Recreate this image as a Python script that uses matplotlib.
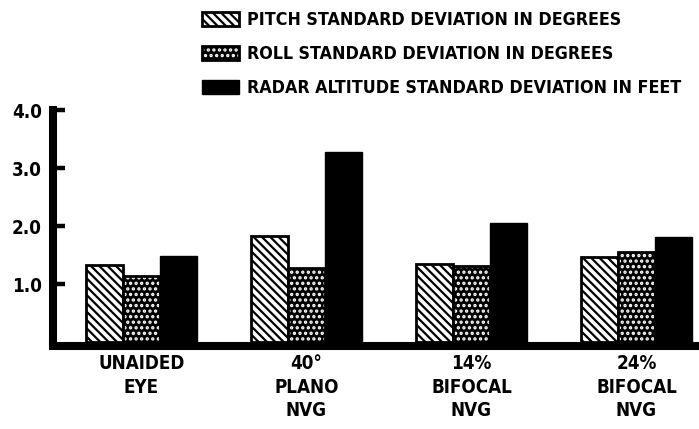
import numpy as np
import matplotlib
matplotlib.use('Agg')
import matplotlib.pyplot as plt
from matplotlib import font_manager as fm

# Data
groups = ['UNAIDED\nEYE', '40°\nPLANO\nNVG', '14%\nBIFOCAL\nNVG', '24%\nBIFOCAL\nNVG']
pitch = [1.33, 1.83, 1.34, 1.47]
roll = [1.14, 1.28, 1.31, 1.55]
radar = [1.48, 3.28, 2.05, 1.81]
series_names = ['PITCH STANDARD DEVIATION IN DEGREES',
                'ROLL STANDARD DEVIATION IN DEGREES',
                'RADAR ALTITUDE STANDARD DEVIATION IN FEET']
yticks = [1, 2, 3, 4]


def _num(v, table):
    return v if isinstance(v, (int, float)) else table.get(v, 500)


# look for a bold condensed face among the installed fonts
best = None
for f in fm.fontManager.ttflist:
    if f.style != 'normal':
        continue
    st = _num(f.stretch, fm.stretch_dict)
    wt = _num(f.weight, fm.weight_dict)
    if st > 400 or wt < 600:
        continue
    score = abs(st - 300) + abs(wt - 700) / 10
    if best is None or score < best[0]:
        best = (score, f.name, f.stretch, f.weight)

if best:
    plt.rcParams['font.family'] = [best[1], 'DejaVu Sans']
    plt.rcParams['font.stretch'] = best[2]
    plt.rcParams['font.weight'] = best[3]
else:
    plt.rcParams['font.family'] = ['DejaVu Sans']
    plt.rcParams['font.weight'] = 'bold'
plt.rcParams['hatch.linewidth'] = 1.6

fig = plt.figure(figsize=(6.99, 4.29), dpi=100)
ax = fig.add_axes([53 / 699, 87 / 429, 1 - 53 / 699, 232 / 429])

x = np.arange(len(groups))
w = 0.224

# pitch: white with black diagonal stripes
b1 = ax.bar(x - w, pitch, w, facecolor='white', edgecolor='black',
            hatch='\\\\\\\\', linewidth=2)
# roll: black with white dots, black outline on top
b2 = ax.bar(x, roll, w, facecolor='black', edgecolor='white',
            hatch='...', linewidth=0)
b2o = ax.bar(x, roll, w, fill=False, edgecolor='black', linewidth=2)
# radar altitude: solid black
b3 = ax.bar(x + w, radar, w, color='black', edgecolor='black', linewidth=1)

ax.set_xlim(-0.536, 3.379)
ax.set_ylim(0, 4)

for s in ['top', 'right']:
    ax.spines[s].set_visible(False)
ax.spines['left'].set_linewidth(5.8)
ax.spines['left'].set_capstyle('projecting')
ax.spines['bottom'].set_linewidth(5.8)
ax.spines['bottom'].set_position(('outward', 2.9))
ax.spines['bottom'].set_capstyle('projecting')

ax.set_yticks(yticks)
ax.set_yticklabels([f'{v:.1f}' for v in yticks])
ax.tick_params(axis='y', direction='in', length=8.5, width=3.2, pad=8,
               labelsize=13.5)
ax.set_xticks(x)
ax.set_xticklabels(groups, linespacing=1.3)
ax.tick_params(axis='x', length=0, pad=6, labelsize=13.5)

fig.legend([b1[0], (b2[0], b2o[0]), b3[0]], series_names,
           loc='upper left', bbox_to_anchor=(202 / 699, 1 - 11 / 429),
           frameon=False, borderpad=0, borderaxespad=0, fontsize=12.8,
           handlelength=2.1, handleheight=0.85, labelspacing=0.9,
           handletextpad=0.45)

fig.savefig('out.png', dpi=100)
